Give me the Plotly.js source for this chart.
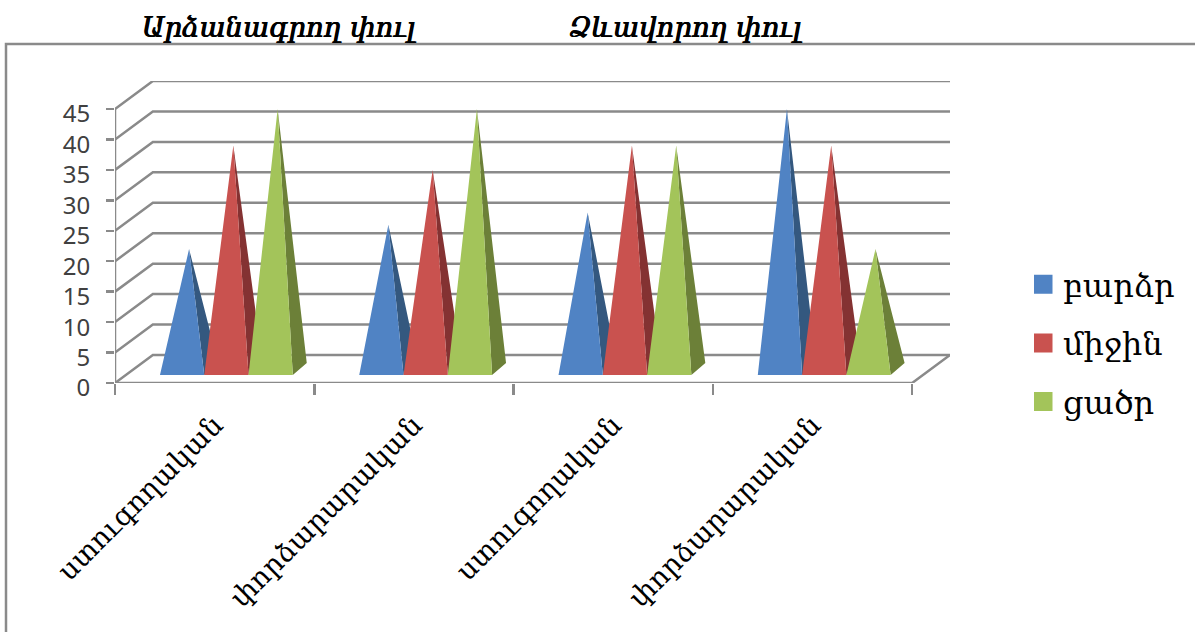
<!DOCTYPE html>
<html><head><meta charset="utf-8">
<script src="https://cdn.plot.ly/plotly-3.0.1.min.js"></script>
<style>html,body{margin:0;padding:0;background:#fff}</style></head>
<body><div id="chart" style="width:1195px;height:632px"></div>
<script>
const categories = ['ստուգողական','փորձարարական','ստուգողական','փորձարարական'];
const seriesNames = ['բարձր','միջին','ցածր'];
const high = [20,24,26,43];
const mid = [37,33,37,37];
const low = [43,43,37,20];
const yTicks = [0,5,10,15,20,25,30,35,40,45];
const titles = ['Արձանագրող փուլ','Ձևավորող փուլ'];
const frontColors = ['#5083c4','#c9524f','#a3c45a'];
const sideColors = ['#34587f','#843232','#6c8038'];

// chart box in page pixels
const W=1195,H=632,L=115,R=950,T=81,B=383;
const pw=R-L,ph=B-T;
const px=x=>(x-L)/pw, py=y=>1-(y-T)/ph;
// 3-D projection in axis units
const wallDX=0.19, wallDY=4.6, yMax=49.6;
const barW=0.2222, gapL=0.2256, sideDX=0.07, sideDY=2, baseY=1.3, apexY=2.0;

const traces=[];
// walls and floor
const gx=[],gy=[];
yTicks.forEach(v=>{gx.push(0,wallDX,4+wallDX,null);gy.push(v,v+wallDY,v+wallDY,null);});
gx.push(0,4,4+wallDX,null,0,0);gy.push(0,0,wallDY,null,0,45);
traces.push({x:gx,y:gy,mode:'lines',line:{color:'#8a8a8a',width:2.5},showlegend:false,hoverinfo:'skip',cliponaxis:false});
// pyramids
[high,mid,low].forEach((vals,s)=>{
  const fx=[],fy=[],sx=[],sy=[];
  vals.forEach((v,c)=>{
    const l=c+gapL+s*barW,r=l+barW,ax=l+barW/2+sideDX/2,ay=v+apexY;
    fx.push(l,r,ax,l,null);fy.push(baseY,baseY,ay,baseY,null);
    sx.push(r,r+sideDX,ax,r,null);sy.push(baseY,baseY+sideDY,ay,baseY,null);
  });
  traces.push({x:sx,y:sy,mode:'lines',line:{width:0},fill:'toself',fillcolor:sideColors[s],showlegend:false,hoverinfo:'skip',cliponaxis:false});
  traces.push({x:fx,y:fy,mode:'lines',line:{width:0},fill:'toself',fillcolor:frontColors[s],showlegend:false,hoverinfo:'skip',cliponaxis:false});
});
// legend entries
seriesNames.forEach((n,s)=>traces.push({x:[null],y:[null],name:n,mode:'markers',legendgroup:n,
  marker:{symbol:'square',size:16,color:frontColors[s],line:{color:frontColors[s],width:3}},hoverinfo:'skip'}));
// x ticks
traces.push({x:[0,4],y:[null,null],xaxis:'x2',mode:'markers',showlegend:false,hoverinfo:'skip'});

const layout={
  width:W,height:H,paper_bgcolor:'#fff',plot_bgcolor:'rgba(0,0,0,0)',
  margin:{l:L,r:W-R,t:T,b:H-B,pad:0},hovermode:false,
  xaxis:{range:[0,4+wallDX],tickmode:'array',tickvals:[0.5,1.5,2.5,3.5],ticktext:categories,tickangle:-45,
    ticks:'',showgrid:false,zeroline:false,showline:false,ticklabelstandoff:19,
    tickfont:{family:'DejaVu Serif',size:28,color:'#000'}},
  xaxis2:{range:[0,4+wallDX],overlaying:'x',side:'bottom',tickmode:'array',tickvals:[0,1,2,3,4],ticktext:['','','','',''],
    ticks:'outside',ticklen:11,tickwidth:2.5,tickcolor:'#8a8a8a',showgrid:false,zeroline:false,showline:false},
  yaxis:{range:[0,yMax],tickmode:'array',tickvals:yTicks,ticks:'outside',ticklen:8,tickwidth:2.5,tickcolor:'#8a8a8a',
    showgrid:false,zeroline:false,showline:false,ticklabelstandoff:11,ticklabelshift:5,
    tickfont:{family:'Noto Sans',size:24,color:'#404040'}},
  legend:{x:px(1034),y:py(257),xanchor:'left',yanchor:'top',font:{family:'DejaVu Serif',size:32,color:'#000'},
    tracegroupgap:14,traceorder:'grouped',itemwidth:30,indentation:-11,bgcolor:'rgba(0,0,0,0)'},
  shapes:[{type:'path',xref:'paper',yref:'paper',
    path:`M ${px(W+5)} ${py(44)} L ${px(6)} ${py(44)} L ${px(6)} ${py(H+5)}`,line:{color:'#8a8a8a',width:2.5}}],
  annotations:titles.map((t,i)=>({text:t,xref:'paper',yref:'paper',x:px([279,686][i]),y:py(27),xanchor:'center',yanchor:'middle',
    showarrow:false,font:{family:'DejaVu Serif',size:27.5,color:'#000',style:'italic',shadow:'0.6px 0 0 #000, -0.4px 0 0 #000'}}))
};
Plotly.newPlot('chart',traces,layout,{displayModeBar:false,staticPlot:true});
</script></body></html>
